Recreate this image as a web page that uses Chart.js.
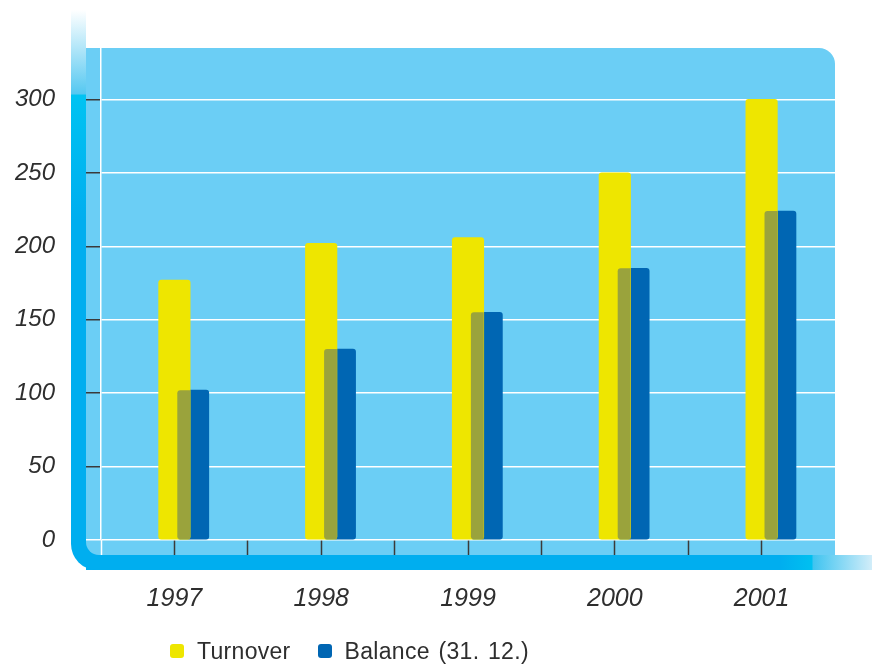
<!DOCTYPE html>
<html>
<head>
<meta charset="utf-8">
<script src="https://cdn.jsdelivr.net/npm/chart.js@4.4.1/dist/chart.umd.min.js"></script>
<style>
  html, body { margin: 0; padding: 0; background: #ffffff; }
  #wrap { position: relative; width: 872px; height: 666px; }
  #legend {
    position: absolute; left: 170px; top: 639px; height: 24px;
    display: flex; align-items: center;
    font-family: "Liberation Sans", Arial, sans-serif; font-size: 23px; color: #2e2e2e;
    word-spacing: 2px; letter-spacing: 0.3px;
  }
  .item { display: flex; align-items: center; margin-right: 27px; }
  .swatch { width: 14px; height: 14px; border-radius: 3px; margin-right: 13px; }
</style>
</head>
<body>
<div id="wrap">
  <canvas id="c" width="872" height="666"></canvas>
  <div id="legend"></div>
</div>
<script>
// Data
const years = ['1997', '1998', '1999', '2000', '2001'];
const turnover = [177, 202, 206, 250, 300];
const balance = [102, 130, 155, 185, 224];
const yTicks = [0, 50, 100, 150, 200, 250, 300];
const seriesNames = ['Turnover', 'Balance (31. 12.)'];

// Styling
const YELLOW = '#EEE600';
const BLUE = '#0066B3';
const OLIVE = '#9AA33C';
const PANEL = '#6BCEF5';
const FRAME = '#00AEEF';
const TEXT = '#2e2e2e';
const TICK = '#3a3a3a';
const BALANCE_SHIFT = 0.127;   // balance bar sits slightly right of the category centre

// Light-blue panel plus the cyan L-shaped frame behind the plot
const framePlugin = {
  id: 'frame',
  beforeDraw(chart) {
    const { ctx, chartArea: a } = chart;
    const L = a.left, T = a.top, R = a.right, B = a.bottom;
    ctx.save();
    // vertical bar, fading to white at its top
    const gv = ctx.createLinearGradient(0, 10, 0, 220);
    gv.addColorStop(0, '#ffffff');
    gv.addColorStop(0.40, '#55C8F1');
    gv.addColorStop(0.405, '#00C3F2');
    gv.addColorStop(1, FRAME);
    ctx.fillStyle = gv;
    ctx.fillRect(L - 30, 10, 15, B - 10);
    // horizontal bar, fading out to the right
    const gh = ctx.createLinearGradient(L, 0, 872, 0);
    const w = 872 - L;
    gh.addColorStop(0, FRAME);
    gh.addColorStop((780 - L) / w, FRAME);
    gh.addColorStop((812 - L) / w, '#00C0F0');
    gh.addColorStop((813 - L) / w, '#3FC4F0');
    gh.addColorStop(1, '#D2EDF9');
    ctx.fillStyle = gh;
    ctx.fillRect(L - 15, B + 15, 872 - (L - 15), 15);
    // rounded corner piece
    ctx.fillStyle = FRAME;
    ctx.beginPath();
    ctx.roundRect(L - 30, B - 110, 70, 140, [0, 0, 0, 26]);
    ctx.fill();
    // panel
    ctx.fillStyle = PANEL;
    ctx.beginPath();
    ctx.roundRect(L - 15, T, R - (L - 15), B + 15 - T, [0, 16, 0, 13]);
    ctx.fill();
    ctx.restore();
  }
};

// Where the two bars overlap, paint the blended olive tone
const overlapPlugin = {
  id: 'overlap',
  afterDatasetsDraw(chart) {
    const ctx = chart.ctx;
    const m0 = chart.getDatasetMeta(0), m1 = chart.getDatasetMeta(1);
    ctx.save();
    ctx.fillStyle = OLIVE;
    m1.data.forEach((b, i) => {
      const a = m0.data[i];
      if (!a) return;
      const left = b.x - b.width / 2;
      const right = Math.min(a.x + a.width / 2, b.x + b.width / 2);
      const top = Math.max(a.y, b.y);
      const base = b.base;
      if (right <= left) return;
      ctx.beginPath();
      ctx.roundRect(left, top, right - left, base - top, [3, 0, 0, 3]);
      ctx.fill();
    });
    ctx.restore();
  }
};

const lastX = years.length * 2;
const chart = new Chart(document.getElementById('c'), {
  type: 'bar',
  data: {
    datasets: [
      {
        label: seriesNames[0],
        data: turnover.map((v, i) => ({ x: i, y: v })),
        backgroundColor: YELLOW
      },
      {
        label: seriesNames[1],
        data: balance.map((v, i) => ({ x: i + BALANCE_SHIFT, y: v })),
        backgroundColor: BLUE
      }
    ]
  },
  options: {
    responsive: false,
    animation: false,
    layout: { padding: { top: 48, right: 37, left: 0, bottom: 0 } },
    datasets: {
      bar: { grouped: false, barThickness: 31.5, borderRadius: 3, borderSkipped: false }
    },
    plugins: { legend: { display: false }, tooltip: { enabled: false } },
    scales: {
      x: {
        type: 'linear',
        offset: false,
        min: -0.5,
        max: 4.5,
        afterFit(s) { s.height = 126; },
        afterBuildTicks(s) {
          const t = [];
          for (let k = 0; k <= years.length * 2; k++) t.push({ value: -0.5 + k * 0.5 });
          s.ticks = t;
        },
        ticks: {
          autoSkip: false,
          maxRotation: 0,
          padding: 29,
          color: TEXT,
          font: { family: '"Liberation Sans", Arial, sans-serif', size: 25, style: 'italic' },
          callback: (v) => Number.isInteger(v) ? years[v] : ''
        },
        grid: {
          offset: false,
          drawOnChartArea: false,
          drawTicks: true,
          tickLength: 15,
          tickWidth: 1.5,
          tickColor: (ctx) => ctx.index === 0 ? '#ffffff' : (ctx.index === lastX ? 'rgba(0,0,0,0)' : TICK)
        },
        border: { display: false }
      },
      y: {
        min: 0,
        max: 335,
        afterFit(s) { s.width = 101; },
        afterBuildTicks(s) { s.ticks = yTicks.map(v => ({ value: v })); },
        ticks: {
          padding: 31,
          color: TEXT,
          font: { family: '"Liberation Sans", Arial, sans-serif', size: 24, style: 'italic' }
        },
        grid: {
          color: '#ffffff',
          lineWidth: 1.5,
          tickLength: 15,
          tickWidth: 1.5,
          tickColor: (ctx) => ctx.tick && ctx.tick.value === 0 ? '#ffffff' : TICK
        },
        border: { color: '#ffffff', width: 1.5 }
      }
    }
  },
  plugins: [framePlugin, overlapPlugin]
});

// Legend built from the chart's datasets
const legend = document.getElementById('legend');
chart.data.datasets.forEach(ds => {
  const item = document.createElement('div');
  item.className = 'item';
  const sw = document.createElement('span');
  sw.className = 'swatch';
  sw.style.background = ds.backgroundColor;
  const label = document.createElement('span');
  label.textContent = ds.label;
  item.appendChild(sw);
  item.appendChild(label);
  legend.appendChild(item);
});
</script>
</body>
</html>
